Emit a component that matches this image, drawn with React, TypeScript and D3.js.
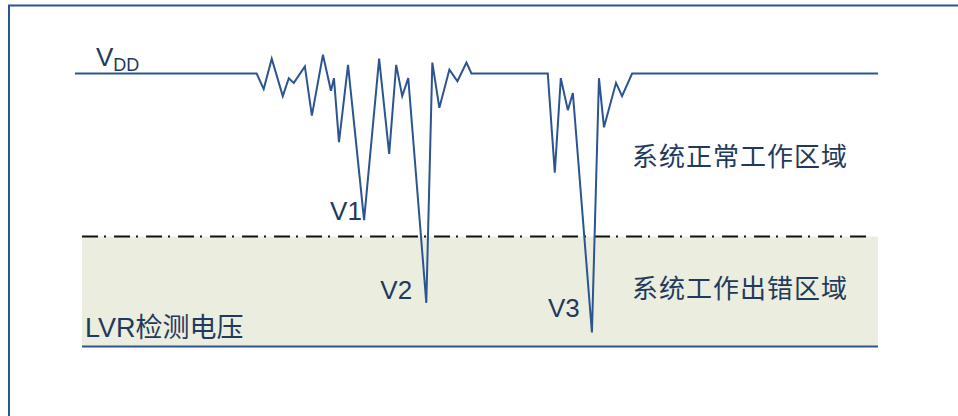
import React from "react";
import * as d3 from "d3";

// Waveform: time (arbitrary units) and supply voltage (V)
const waveTime = [
  0, 16.4, 18.1, 18.8, 19.6, 20.7, 21.3, 21.8, 22.9, 23.6, 24.7, 25.5, 25.8, 26.3, 27.2,
  28.8, 30.3, 31.3, 32.0, 32.6, 33.2, 35.0, 35.6, 36.3, 37.3, 38.1, 39.0, 39.5,
  47.1, 47.8, 48.4, 49.1, 49.6, 51.5, 52.2, 52.7, 53.9, 54.5, 55.5, 80,
];
const waveVolt = [
  5.0, 5.0, 5.0, 4.8, 5.19, 4.71, 4.94, 4.88, 5.09, 4.46, 5.24, 4.78, 4.94, 4.12, 5.11,
  3.12, 5.19, 3.97, 5.11, 4.71, 4.94, 2.06, 5.14, 4.56, 5.05, 4.9, 5.14, 5.0,
  5.0, 3.73, 4.94, 4.53, 4.75, 1.68, 4.94, 4.31, 4.88, 4.71, 5.0, 5.0,
];

// Reference levels
const thresholdVolt = 2.91;
const lvrVolt = 1.5;
const bandStart = 0.7;
const bandEnd = 80;

// Dip labels
const dipLabels = ["V1", "V2", "V3"];
const dipTime = [28.8, 35.0, 51.5];
const dipVolt = [3.12, 2.06, 1.68];

const regionLabels = ["系统正常工作区域", "系统工作出错区域"];
const lvrLabelLatin = "LVR";
const lvrLabelCjk = "检测电压";

const W = 958;
const H = 416;
const lineColor = "#2c5491";
const textColor = "#1f3a5c";
const bandColor = "#ebeedf";
const latin = "'Liberation Sans', Arial, sans-serif";
const cjk = "'Noto Sans CJK SC', 'Liberation Sans', sans-serif";

export default function App() {
  const x = d3.scaleLinear().domain([0, 80]).range([75, 878]);
  const y = d3.scaleLinear().domain([1.5, 5]).range([346.5, 73.5]);

  const pts: [number, number][] = waveTime.map((t, i) => [t, waveVolt[i]]);
  const line = d3
    .line<[number, number]>()
    .x((d) => x(d[0]))
    .y((d) => y(d[1]));

  const labelOffsets = [
    { dx: -34, dy: 0 },
    { dx: -46, dy: -4 },
    { dx: -44, dy: -15 },
  ];

  return (
    <svg
      width={W}
      height={H}
      style={{ position: "absolute", left: 0, top: 0, background: "#fff" }}
    >
      {/* frame */}
      <rect x={9} y={5.5} width={W + 20} height={H + 20} fill="none" stroke={lineColor} strokeWidth={2} />

      {/* error band */}
      <rect
        x={x(bandStart)}
        y={y(thresholdVolt)}
        width={x(bandEnd) - x(bandStart)}
        height={y(lvrVolt) - y(thresholdVolt)}
        fill={bandColor}
      />
      {/* threshold dash-dot line */}
      <line
        x1={x(bandStart)}
        x2={x(bandEnd) - 8}
        y1={y(thresholdVolt)}
        y2={y(thresholdVolt)}
        stroke="#111"
        strokeWidth={2}
        strokeDasharray="16,6,2,8"
      />
      {/* LVR line */}
      <line
        x1={x(bandStart)}
        x2={x(bandEnd)}
        y1={y(lvrVolt)}
        y2={y(lvrVolt)}
        stroke={lineColor}
        strokeWidth={2}
      />

      {/* waveform */}
      <path d={line(pts) || ""} fill="none" stroke={lineColor} strokeWidth={2} strokeLinejoin="miter" />

      {/* VDD label */}
      <text x={96} y={66} fill={textColor} fontFamily={latin} fontSize={26}>
        V
        <tspan fontSize={18} dy={5}>DD</tspan>
      </text>

      {/* dip labels */}
      {dipLabels.map((lab, i) => (
        <text
          key={lab}
          x={x(dipTime[i]) + labelOffsets[i].dx}
          y={y(dipVolt[i]) + labelOffsets[i].dy}
          fill={textColor}
          fontFamily={latin}
          fontSize={26}
        >
          {lab}
        </text>
      ))}

      {/* region labels */}
      <text x={632} y={166} fill={textColor} fontFamily={cjk} fontSize={26} letterSpacing={1}>
        {regionLabels[0]}
      </text>
      <text x={632} y={298} fill={textColor} fontFamily={cjk} fontSize={26} letterSpacing={1}>
        {regionLabels[1]}
      </text>
      <text x={85} y={337} fill={textColor} fontSize={27}>
        <tspan fontFamily={latin}>{lvrLabelLatin}</tspan>
        <tspan fontFamily={cjk}>{lvrLabelCjk}</tspan>
      </text>
    </svg>
  );
}
